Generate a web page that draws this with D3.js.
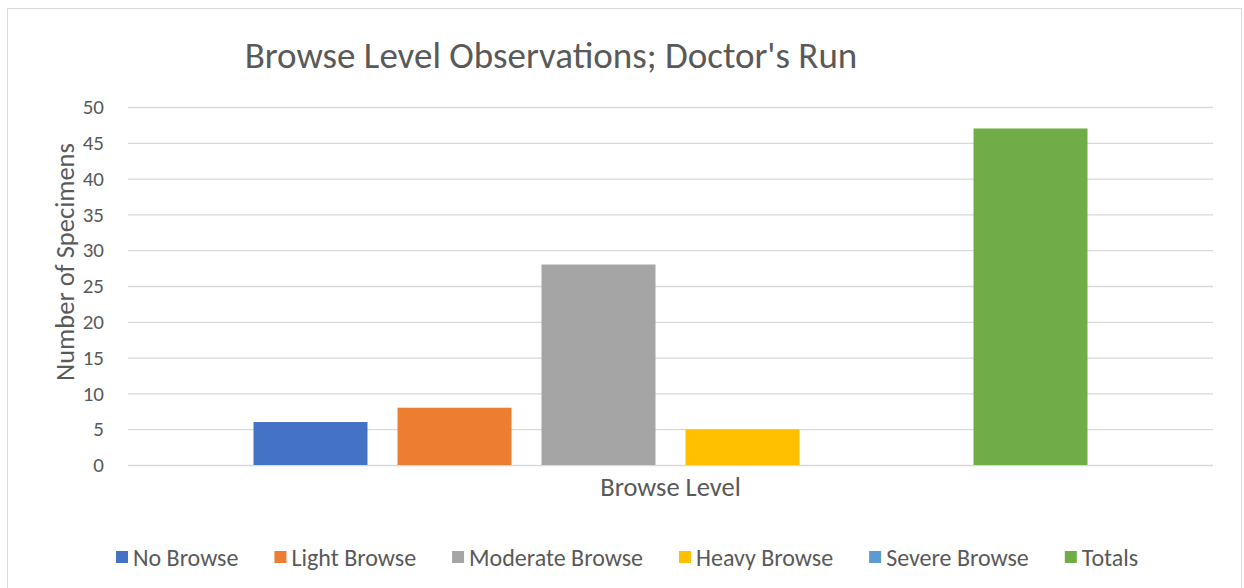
<!DOCTYPE html>
<html><head><meta charset="utf-8">
<script src="https://cdn.jsdelivr.net/npm/d3@7"></script>
<style>body{margin:0;background:#fff}svg{display:block}text{font-family:Carlito,Calibri,Lato,sans-serif;fill:#595959}</style>
</head><body><svg width="1244" height="588"></svg>
<script>
const series = ["No Browse","Light Browse","Moderate Browse","Heavy Browse","Severe Browse","Totals"];
const values = [6,8,28,5,0,47];
const colors = ["#4472C4","#ED7D31","#A5A5A5","#FFC000","#5B9BD5","#70AD47"];
const yTicks = [0,5,10,15,20,25,30,35,40,45,50];
const title = "Browse Level Observations; Doctor's Run";
const xTitle = "Browse Level";
const yTitle = "Number of Specimens";

const svg = d3.select("svg");
svg.append("rect").attr("x",7.5).attr("y",8.5).attr("width",1234).attr("height",590)
  .attr("fill","#fff").attr("stroke","#d9d9d9");

const L=128,R=1213,T=107,B=465;
const y = d3.scaleLinear().domain([0,50]).range([B,T]);
const x = d3.scaleBand().domain(series).range([L,R]).paddingInner(30/144).paddingOuter(125.5/144);

const yAxis = svg.append("g").attr("transform",`translate(${L},0)`)
  .call(d3.axisLeft(y).tickValues(yTicks).tickSize(-(R-L)).tickPadding(24));
yAxis.select(".domain").remove();
yAxis.selectAll("line").attr("stroke","#d9d9d9").attr("stroke-width",1.3);
yAxis.selectAll("text").style("font-size","21px").attr("fill","#595959");

svg.append("g").selectAll("rect").data(series).join("rect")
  .attr("x",d=>x(d)).attr("width",x.bandwidth())
  .attr("y",(d,i)=>y(values[i])).attr("height",(d,i)=>B-y(values[i]))
  .attr("fill",(d,i)=>colors[i]);

svg.append("text").attr("x",551).attr("y",68).attr("text-anchor","middle")
  .style("font-size","37px").text(title);
svg.append("text").attr("x",(L+R)/2).attr("y",496).attr("text-anchor","middle")
  .style("font-size","26.5px").text(xTitle);
svg.append("text").attr("transform","translate(74,262) rotate(-90)").attr("text-anchor","middle")
  .style("font-size","26.5px").text(yTitle);

const leg = svg.append("g");
let cx = 116;
series.forEach((s,i)=>{
  const g = leg.append("g");
  g.append("rect").attr("x",cx).attr("y",551).attr("width",12).attr("height",12).attr("fill",colors[i]);
  const t = g.append("text").attr("x",cx+17).attr("y",566).style("font-size","24px").text(s);
  cx += 17 + t.node().getComputedTextLength() + 36;
});
</script></body></html>
